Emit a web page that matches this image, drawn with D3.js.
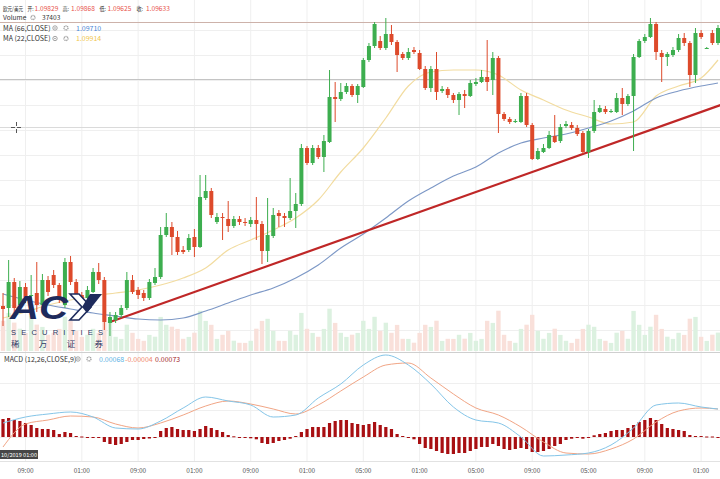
<!DOCTYPE html>
<html>
<head>
<meta charset="utf-8">
<script src="https://cdn.jsdelivr.net/npm/d3@7"></script>
<style>
  body { margin: 0; background: #fff; overflow: hidden; }
  svg { display: block; }
</style>
</head>
<body>
<div id="base"></div>
<script>
/* global d3 */

// candle data (EUR/USD), one entry per bar
var open = [1.09448,1.09444,1.09496,1.09450,1.09486,1.09468,1.09474,1.09450,1.09500,1.09510,
  1.09490,1.09450,1.09536,1.09496,1.09470,1.09464,1.09476,1.09516,1.09500,1.09414,
  1.09420,1.09430,1.09444,1.09500,1.09480,1.09474,1.09464,1.09494,1.09506,1.09590,
  1.09606,1.09586,1.09560,1.09560,1.09586,1.09566,1.09664,1.09678,1.09616,1.09626,
  1.09622,1.09608,1.09622,1.09616,1.09612,1.09620,1.09612,1.09558,1.09588,1.09634,
  1.09628,1.09624,1.09638,1.09652,1.09764,1.09734,1.09764,1.09746,1.09776,1.09866,
  1.09862,1.09876,1.09888,1.09870,1.09886,1.09940,1.09968,1.09978,1.09964,1.09992,
  1.09976,1.09952,1.09944,1.09960,1.09954,1.09922,1.09884,1.09922,1.09878,1.09882,
  1.09870,1.09860,1.09872,1.09868,1.09892,1.09896,1.09906,1.09900,1.09944,1.09832,
  1.09822,1.09816,1.09816,1.09868,1.09810,1.09742,1.09756,1.09764,1.09788,1.09778,
  1.09808,1.09810,1.09804,1.09794,1.09756,1.09798,1.09836,1.09842,1.09836,1.09836,
  1.09864,1.09852,1.09868,1.09946,1.09978,1.09986,1.10012,1.09954,1.09946,1.09950,
  1.09960,1.09984,1.09974,1.09910,1.09994,1.09964,1.09994,1.09974];
var high = [1.09474,1.09540,1.09504,1.09498,1.09494,1.09510,1.09536,1.09512,1.09508,1.09520,
  1.09494,1.09544,1.09548,1.09502,1.09476,1.09488,1.09524,1.09534,1.09506,1.09436,
  1.09436,1.09450,1.09516,1.09510,1.09486,1.09480,1.09502,1.09524,1.09606,1.09634,
  1.09616,1.09598,1.09568,1.09592,1.09602,1.09710,1.09710,1.09684,1.09634,1.09634,
  1.09658,1.09628,1.09628,1.09624,1.09626,1.09666,1.09618,1.09664,1.09644,1.09640,
  1.09634,1.09704,1.09674,1.09772,1.09768,1.09770,1.09770,1.09790,1.09920,1.09896,
  1.09894,1.09894,1.09892,1.09892,1.09944,1.09974,1.10016,1.09988,1.10024,1.10010,
  1.09980,1.09956,1.09964,1.09966,1.09960,1.09928,1.09928,1.09956,1.09888,1.09886,
  1.09874,1.09876,1.09880,1.09900,1.09904,1.09920,1.09980,1.09956,1.09948,1.09836,
  1.09826,1.09822,1.09874,1.09874,1.09814,1.09764,1.09772,1.09798,1.09830,1.09812,
  1.09818,1.09816,1.09810,1.09798,1.09802,1.09860,1.09850,1.09848,1.09842,1.09874,
  1.09884,1.09872,1.09952,1.09982,1.09992,1.10024,1.10016,1.09960,1.09956,1.09966,
  1.09992,1.09994,1.09978,1.10004,1.10000,1.09966,1.10000,1.10010];
var low = [1.09408,1.09426,1.09432,1.09442,1.09454,1.09440,1.09436,1.09444,1.09468,1.09484,
  1.09454,1.09444,1.09490,1.09462,1.09448,1.09458,1.09474,1.09492,1.09400,1.09388,
  1.09414,1.09424,1.09440,1.09472,1.09462,1.09458,1.09460,1.09490,1.09502,1.09586,
  1.09550,1.09550,1.09552,1.09556,1.09546,1.09564,1.09660,1.09624,1.09612,1.09580,
  1.09596,1.09604,1.09610,1.09608,1.09606,1.09580,1.09532,1.09536,1.09584,1.09606,
  1.09606,1.09620,1.09604,1.09648,1.09730,1.09730,1.09742,1.09716,1.09774,1.09816,
  1.09858,1.09872,1.09866,1.09854,1.09884,1.09936,1.09964,1.09960,1.09960,1.09970,
  1.09916,1.09940,1.09940,1.09952,1.09920,1.09880,1.09876,1.09860,1.09874,1.09864,
  1.09854,1.09830,1.09844,1.09866,1.09888,1.09894,1.09878,1.09870,1.09794,1.09818,
  1.09812,1.09814,1.09814,1.09806,1.09740,1.09740,1.09754,1.09762,1.09774,1.09774,
  1.09804,1.09800,1.09788,1.09752,1.09744,1.09794,1.09834,1.09832,1.09834,1.09834,
  1.09830,1.09848,1.09758,1.09944,1.09974,1.09984,1.09940,1.09896,1.09928,1.09946,
  1.09956,1.09968,1.09886,1.09894,1.09982,1.09962,1.09970,1.09970];
var close = [1.09442,1.09496,1.09444,1.09486,1.09466,1.09470,1.09450,1.09500,1.09476,1.09490,
  1.09460,1.09536,1.09496,1.09470,1.09456,1.09480,1.09516,1.09500,1.09416,1.09426,
  1.09430,1.09444,1.09500,1.09476,1.09470,1.09464,1.09496,1.09506,1.09590,1.09606,
  1.09586,1.09556,1.09556,1.09584,1.09566,1.09666,1.09678,1.09630,1.09626,1.09624,
  1.09608,1.09622,1.09616,1.09614,1.09620,1.09612,1.09558,1.09590,1.09630,1.09628,
  1.09624,1.09638,1.09652,1.09764,1.09734,1.09764,1.09746,1.09778,1.09866,1.09862,
  1.09876,1.09888,1.09870,1.09888,1.09940,1.09968,1.10012,1.09964,1.09992,1.09976,
  1.09950,1.09944,1.09956,1.09956,1.09922,1.09884,1.09922,1.09876,1.09882,1.09870,
  1.09860,1.09872,1.09868,1.09894,1.09896,1.09906,1.09896,1.09944,1.09832,1.09822,
  1.09816,1.09818,1.09868,1.09810,1.09742,1.09758,1.09764,1.09790,1.09776,1.09806,
  1.09812,1.09804,1.09792,1.09756,1.09798,1.09836,1.09844,1.09836,1.09838,1.09864,
  1.09852,1.09868,1.09946,1.09978,1.09986,1.10012,1.09956,1.09946,1.09952,1.09960,
  1.09984,1.09974,1.09910,1.09994,1.09986,1.09964,1.09974,1.10004];
var volume = [30200,38100,28400,22300,18100,35200,26400,24100,16300,18200,
  22100,34300,30100,20200,14100,16300,22200,18100,36400,30200,
  14200,12100,26300,18200,12100,10200,16100,14300,34100,26200,
  24300,22100,12200,14100,18300,40200,30100,26200,12100,16200,
  20100,10300,8200,8100,10200,22300,30100,32200,20100,10200,
  10100,20300,16200,38100,22200,18100,14200,22100,42300,28100,
  18200,14100,16300,18100,30200,22100,34200,20100,28300,18200,
  26100,12200,12100,8300,18100,26200,24100,30300,10100,12200,
  12100,16200,12300,18100,10200,12100,30200,28100,40300,16200,
  10100,8200,22100,26300,36200,20100,12200,18100,22300,16100,
  10200,8100,12200,22100,26300,24200,12100,10200,8100,18300,
  20100,12200,40100,26200,16100,24300,36200,22100,14300,12100,
  18200,16100,32300,34100,14200,10100,16300,18400];

// moving averages, sampled every 4th bar
var maIdx = [0,4,8,12,16,20,24,28,32,36,40,44,48,52,56,60,64,68,72,76,80,84,88,92,96,100,104,108,112,116,120,124,127];
var ma66 = [1.09472,1.09460,1.09450,1.09442,1.09434,1.09428,1.09422,1.09420,1.09424,1.09438,1.09454,1.09470,1.09484,
  1.09504,1.09530,1.09564,1.09592,1.09624,1.09658,1.09684,1.09708,1.09726,1.09754,1.09774,1.09784,1.09792,
  1.09804,1.09818,1.09838,1.09864,1.09878,1.09888,1.09894];
var ma22 = [1.09424,1.09436,1.09450,1.09460,1.09468,1.09474,1.09480,1.09490,1.09504,1.09524,1.09560,1.09580,1.09600,
  1.09624,1.09660,1.09716,1.09764,1.09824,1.09888,1.09916,1.09920,1.09920,1.09910,1.09880,1.09860,1.09840,
  1.09826,1.09812,1.09816,1.09868,1.09888,1.09904,1.09940];

// trend line and horizontal levels drawn on the chart
var trendIdx = [19, 128];
var trendPrice = [1.09416, 1.09852];
var levels = [1.10016, 1.09902, 1.09806];
var levelColors = ["#cdb2aa", "#c4c4c4", "#dadada"];

// MACD (12,26,9): histogram per bar, DIF / DEA sampled like the MAs
var macdHist = [0.00018,0.00019,0.00017,0.00016,0.00014,0.00012,0.00009,0.00008,0.00008,0.00007,
  0.00003,0.00005,0.00004,0.00001,0.000005,-0.000005,-0.000007,-0.000007,-0.00005,-0.00007,
  -0.00008,-0.00007,-0.00005,-0.00003,-0.00003,-0.00002,-0.000015,-0.000007,0.00006,0.00009,
  0.00010,0.00008,0.00007,0.00007,0.00006,0.00008,0.00011,0.00009,0.00007,0.00005,
  0.00002,0.000007,-0.000005,-0.000007,-0.000013,-0.000023,-0.00006,-0.00007,-0.00006,-0.00004,
  -0.00003,-0.000017,0.00001,0.00005,0.00008,0.00010,0.00010,0.00010,0.00014,0.00016,
  0.00017,0.00017,0.00014,0.00013,0.00012,0.00013,0.00015,0.00012,0.00010,0.00008,
  0.00003,0.00001,-0.000007,-0.000023,-0.00007,-0.00011,-0.00012,-0.00014,-0.00016,-0.00017,
  -0.00017,-0.00016,-0.00016,-0.00014,-0.00012,-0.00010,-0.00010,-0.00007,-0.00009,-0.00012,
  -0.00013,-0.00012,-0.00011,-0.00012,-0.00015,-0.00015,-0.00014,-0.00012,-0.00009,-0.00007,
  -0.00003,-0.000017,-0.00001,-0.000017,-0.00001,0.000017,0.00003,0.00004,0.00006,0.00007,
  0.00007,0.00009,0.00012,0.00015,0.00017,0.00019,0.00017,0.00013,0.00009,0.00008,
  0.00007,0.00006,0.00002,0.00001,0.00001,0.000005,0.000005,-0.000007];
var macdDif = [0.00014,0.00020,0.00023,0.00025,0.00020,0.00009,0.00008,0.00016,0.00029,0.00040,0.00036,0.00032,0.00020,
  0.00022,0.00039,0.00053,0.00072,0.00082,0.00072,0.00053,0.00030,0.00017,0.00014,0.00000,-0.00019,-0.00018,
  -0.00016,-0.00008,0.00009,0.00032,0.00034,0.00030,0.00028];
var macdDea = [-0.00010,0.00013,0.00017,0.00021,0.00020,0.00013,0.00009,0.00014,0.00022,0.00031,0.00036,0.00033,0.00028,
  0.00023,0.00032,0.00046,0.00060,0.00072,0.00074,0.00059,0.00043,0.00029,0.00022,0.00010,-0.00005,-0.00016,
  -0.00017,-0.00012,-0.00002,0.00015,0.00026,0.00029,0.00028];

// time axis
var tickIdx = [4,14,24,34,44,54,64,74,84,94,104,114,124];
var tickLabels = ["09:00","01:00","09:00","01:00","09:00","01:00","05:00","01:00","05:00","09:00","05:00","09:00","01:00"];

// colours
var upColor = "#3dae4f";
var downColor = "#dd4a2b";
var ma66Color = "#7d98c6";
var ma22Color = "#f2dca0";
var difColor = "#84c5e8";
var deaColor = "#f1a585";
var histColor = "#a80f12";
var trendColor = "#bf2727";

const width = 720;
const height = 479;
const bars = d3.range(open.length);

const x = d3.scaleLinear().domain([0, open.length - 1]).range([3, 718]);
const y = d3.scaleLinear().domain([1.094, 1.10016]).range([330, 22]);
const yVol = d3.scaleLinear().domain([0, 48000]).range([351, 303]);
const yMacd = d3.scaleLinear().domain([-0.00023, 0.00084]).range([460, 353]);

const svg = d3.select("#base").append("svg")
    .attr("width", width)
    .attr("height", height)
    .style("font-family", "'Noto Sans CJK SC', 'Noto Sans', sans-serif");

svg.append("rect").attr("width", width).attr("height", height).attr("fill", "#fff");

// grid
const grid = svg.append("g").attr("stroke", "#efefef").attr("stroke-width", 1);
grid.selectAll(".v").data(tickIdx).join("line")
    .attr("x1", d => x(d)).attr("x2", d => x(d))
    .attr("y1", 0).attr("y2", 461);
grid.selectAll(".h").data(d3.range(1.0940, 1.10001, 0.0005)).join("line")
    .attr("x1", 0).attr("x2", width)
    .attr("y1", d => Math.round(y(d)) + 0.5).attr("y2", d => Math.round(y(d)) + 0.5);
grid.selectAll(".m").data([0, 0.00027, 0.00054]).join("line")
    .attr("x1", 0).attr("x2", width)
    .attr("y1", d => Math.round(yMacd(d)) + 0.5).attr("y2", d => Math.round(yMacd(d)) + 0.5);

// horizontal levels
svg.append("g").selectAll("line").data(levels).join("line")
    .attr("x1", 0).attr("x2", width)
    .attr("y1", d => Math.round(y(d)) + 0.5).attr("y2", d => Math.round(y(d)) + 0.5)
    .attr("stroke", (d, i) => levelColors[i]).attr("stroke-width", 1);

// volume (faint, behind candles)
svg.append("g").selectAll("rect").data(bars).join("rect")
    .attr("x", i => x(i) - 2.2)
    .attr("width", 4.4)
    .attr("y", i => yVol(volume[i]))
    .attr("height", i => yVol(0) - yVol(volume[i]))
    .attr("fill", i => close[i] >= open[i] ? "#dcf1e0" : "#f9e0da");

// moving averages
const maLine = (vals) => d3.line()
    .x((d, k) => x(maIdx[k]))
    .y((d) => y(d))
    .curve(d3.curveMonotoneX)(vals);

svg.append("path").attr("d", maLine(ma22)).attr("fill", "none")
    .attr("stroke", ma22Color).attr("stroke-width", 1.2);
svg.append("path").attr("d", maLine(ma66)).attr("fill", "none")
    .attr("stroke", ma66Color).attr("stroke-width", 1.2);

// trend line
svg.append("line")
    .attr("x1", x(trendIdx[0])).attr("y1", y(trendPrice[0]))
    .attr("x2", x(trendIdx[1])).attr("y2", y(trendPrice[1]))
    .attr("stroke", trendColor).attr("stroke-width", 2.2);

// candles
const candle = svg.append("g").selectAll("g").data(bars).join("g");
candle.append("line")
    .attr("x1", i => x(i)).attr("x2", i => x(i))
    .attr("y1", i => y(high[i])).attr("y2", i => y(low[i]))
    .attr("stroke", i => close[i] >= open[i] ? upColor : downColor)
    .attr("stroke-width", 1);
candle.append("rect")
    .attr("x", i => x(i) - 2)
    .attr("width", 4)
    .attr("y", i => y(Math.max(open[i], close[i])))
    .attr("height", i => Math.max(1, Math.abs(y(open[i]) - y(close[i]))))
    .attr("fill", i => close[i] >= open[i] ? upColor : downColor);

// watermark logo
const logo = svg.append("g").attr("fill", "#1e2b5c");
logo.append("text").attr("x", 10).attr("y", 319)
    .attr("font-family", "'Liberation Sans', Arial, sans-serif")
    .attr("font-weight", "bold").attr("font-style", "italic")
    .attr("font-size", 34).attr("textLength", 58).attr("lengthAdjust", "spacingAndGlyphs")
    .text("AC");
logo.append("path")
    .attr("d", "M70,294 L79,294 L91,307 L79,320 L70,320 L82,307 Z")
    .attr("fill", "#fff").attr("stroke", "#1e2b5c").attr("stroke-width", 1.6);
logo.append("path").attr("d", "M90,294 L102,294 L87,313 L82,307 Z");
logo.append("text").attr("x", 11).attr("y", 334.5)
    .attr("font-family", "'Liberation Sans', Arial, sans-serif")
    .attr("font-size", 7.5).attr("fill", "#2b3763")
    .attr("textLength", 92).attr("lengthAdjust", "spacing")
    .text("SECURITIES");
logo.append("text").attr("x", 11).attr("y", 347)
    .attr("font-size", 8.5).attr("fill", "#2b3763")
    .attr("textLength", 92).attr("lengthAdjust", "spacing")
    .text("稀万证券");

// panel separators
svg.append("line").attr("x1", 0).attr("x2", width).attr("y1", 352.5).attr("y2", 352.5)
    .attr("stroke", "#cfcfcf");
svg.append("line").attr("x1", 0).attr("x2", width).attr("y1", 461.5).attr("y2", 461.5)
    .attr("stroke", "#e2e2e2");

// MACD histogram
svg.append("g").selectAll("rect").data(bars).join("rect")
    .attr("x", i => x(i) - 1.6)
    .attr("width", 3.2)
    .attr("y", i => Math.min(yMacd(0), yMacd(macdHist[i])))
    .attr("height", i => Math.max(1, Math.abs(yMacd(macdHist[i]) - yMacd(0))))
    .attr("fill", histColor);

// MACD lines
const macdLine = (vals) => d3.line()
    .x((d, k) => x(maIdx[k]))
    .y((d) => yMacd(d))
    .curve(d3.curveMonotoneX)(vals);
svg.append("path").attr("d", macdLine(macdDea)).attr("fill", "none")
    .attr("stroke", deaColor).attr("stroke-width", 1);
svg.append("path").attr("d", macdLine(macdDif)).attr("fill", "none")
    .attr("stroke", difColor).attr("stroke-width", 1);

// time axis labels
svg.append("g").selectAll("text").data(tickIdx).join("text")
    .attr("x", d => x(d)).attr("y", 473)
    .attr("text-anchor", "middle")
    .attr("font-size", 6.5).attr("fill", "#555")
    .text((d, k) => tickLabels[k]);

// crosshair date tag
svg.append("rect").attr("x", 0).attr("y", 450).attr("width", 38).attr("height", 9)
    .attr("fill", "#474747");
svg.append("text").attr("x", 1).attr("y", 457)
    .attr("font-size", 5.5).attr("fill", "#fff")
    .attr("textLength", 36).attr("lengthAdjust", "spacingAndGlyphs")
    .text("10/2019 01:00");

// mouse cursor
const cur = svg.append("g").attr("stroke", "#555").attr("stroke-width", 1);
cur.append("line").attr("x1", 11).attr("x2", 15).attr("y1", 127.5).attr("y2", 127.5);
cur.append("line").attr("x1", 17).attr("x2", 21).attr("y1", 127.5).attr("y2", 127.5);
cur.append("line").attr("x1", 16.5).attr("x2", 16.5).attr("y1", 122).attr("y2", 126);
cur.append("line").attr("x1", 16.5).attr("x2", 16.5).attr("y1", 129).attr("y2", 133);

// legend texts
function icons(g, ex, gx, cy) {
  g.append("circle").attr("cx", ex).attr("cy", cy).attr("r", 2.2)
      .attr("fill", "none").attr("stroke", "#999").attr("stroke-width", 0.9);
  g.append("circle").attr("cx", ex).attr("cy", cy).attr("r", 0.8).attr("fill", "#999");
  g.append("circle").attr("cx", gx).attr("cy", cy).attr("r", 2)
      .attr("fill", "none").attr("stroke", "#999").attr("stroke-width", 1.3)
      .attr("stroke-dasharray", "1 0.6");
}
const lg = svg.append("g").attr("font-size", 7).attr("fill", "#333");

// header: [text, x, colour, fitted width or 0]
const hdr = [["欧元/美元", 3, "#333", 20], ["开:", 27.5, "#333", 6], ["1.09829", 34.5, "#e8524a", 0],
  ["高:", 62.5, "#333", 6.5], ["1.09868", 71, "#e8524a", 0], ["低:", 99.5, "#333", 6.5], ["1.09625", 107.5, "#e8524a", 0],
  ["收:", 136.5, "#333", 6.5], ["1.09633", 146, "#e8524a", 0]];
lg.selectAll(".hd").data(hdr).join("text")
    .attr("x", d => d[1]).attr("y", 10.5).attr("fill", d => d[2])
    .attr("font-size", d => d[3] ? 5.8 : 6.6)
    .attr("textLength", d => d[3] || null)
    .attr("lengthAdjust", "spacingAndGlyphs")
    .text(d => d[0]);

lg.append("text").attr("x", 3).attr("y", 20).attr("font-size", 6.6).text("Volume");
lg.append("circle").attr("cx", 33).attr("cy", 17.5).attr("r", 2)
    .attr("fill", "none").attr("stroke", "#999").attr("stroke-width", 1.3).attr("stroke-dasharray", "1 0.6");
lg.append("text").attr("x", 42).attr("y", 20).attr("font-size", 6.6).text("37403");

lg.append("text").attr("x", 3).attr("y", 30.5).text("MA (66,CLOSE)");
icons(lg, 55, 66, 28);
lg.append("text").attr("x", 76).attr("y", 30.5).attr("fill", "#4a86d6").text("1.09710");

lg.append("text").attr("x", 3).attr("y", 41).text("MA (22,CLOSE)");
icons(lg, 55, 66, 38.5);
lg.append("text").attr("x", 76).attr("y", 41).attr("fill", "#f0c650").text("1.09914");

lg.append("text").attr("x", 4).attr("y", 361.5).text("MACD (12,26,CLOSE,9)");
icons(lg, 78, 89, 359);
lg.append("text").attr("x", 99).attr("y", 361.5).attr("fill", "#5cb2e4").text("0.00068");
lg.append("text").attr("x", 125).attr("y", 361.5).attr("fill", "#f0876a").text("-0.00004");
lg.append("text").attr("x", 155).attr("y", 361.5).attr("fill", "#a52a2a").text("0.00073");
</script>
</body>
</html>
